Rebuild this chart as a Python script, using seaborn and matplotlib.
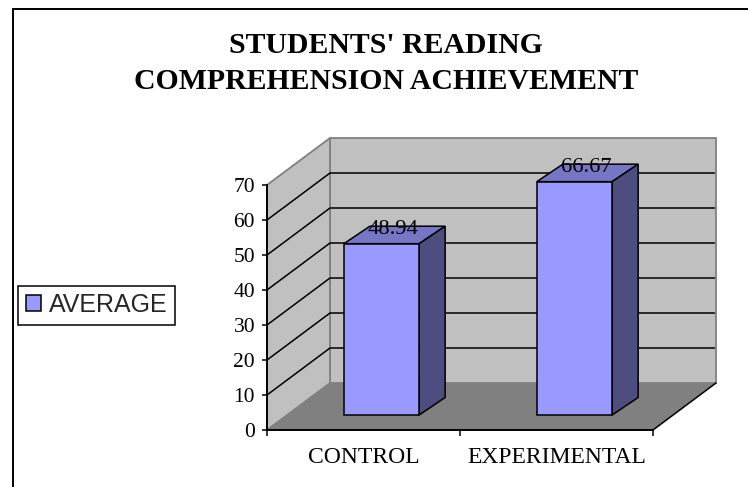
import matplotlib
matplotlib.use('Agg')
import matplotlib.pyplot as plt
import pandas as pd
import seaborn as sns
from matplotlib.patches import Polygon, Rectangle
from matplotlib.transforms import Affine2D

groups = ['CONTROL', 'EXPERIMENTAL']
average = [48.94, 66.67]
y_ticks = [0, 10, 20, 30, 40, 50, 60, 70]
legend_label = 'AVERAGE'
title = "STUDENTS' READING\nCOMPREHENSION ACHIEVEMENT"

W, H = 748, 487
DEPTH = (63, 47)      # axis box depth, pixels
BAR_SHIFT = (18, 15)  # bars stand partway into the floor
BAR_DEPTH = (26, 17.5)

sns.set_theme(style='white')
plt.rcParams['font.family'] = ['Liberation Serif', 'DejaVu Serif']

fig = plt.figure(figsize=(W / 100, H / 100), dpi=100, facecolor='white')
ax = fig.add_axes([267 / W, 1 - 430 / H, 386 / W, 245 / H])
ax.patch.set_visible(False)

df = pd.DataFrame({'group': groups, 'average': average})
sns.barplot(data=df, x='group', y='average', width=0.39, color='#9999FF', saturation=1,
            edgecolor='black', linewidth=1.1, label=legend_label, ax=ax, zorder=5)
bars = list(ax.containers[0])
ax.set_xlim(-0.5, 1.5)
ax.set_ylim(0, 70)
ax.set_xlabel('')
ax.set_ylabel('')

inv = ax.transData.inverted()
depth = ax.transData + Affine2D().translate(*DEPTH)
shift = ax.transData + Affine2D().translate(*BAR_SHIFT)
bar_depth = Affine2D().translate(*BAR_DEPTH)

# walls and floor
x0, x1 = ax.get_xlim()
top = y_ticks[-1]
ax.add_patch(Polygon([(x0, 0), (x0, top), (x1, top), (x1, 0)], transform=depth, clip_on=False,
                     facecolor='#C0C0C0', edgecolor='#808080', linewidth=1.3, zorder=1))
wall = inv.transform(depth.transform([(x0, 0), (x0, top)]))
ax.add_patch(Polygon([(x0, 0), (x0, top), wall[1], wall[0]], clip_on=False,
                     facecolor='#C0C0C0', edgecolor='#808080', linewidth=1.3, zorder=1))
back = inv.transform(depth.transform([(x0, 0), (x1, 0)]))
ax.add_patch(Polygon([(x0, 0), (x1, 0), back[1], back[0]], clip_on=False,
                     facecolor='#808080', edgecolor='none', zorder=2))
ax.plot([x1, back[1][0]], [0, back[1][1]], color='black', lw=1.1, clip_on=False, zorder=3)

# gridlines, round the side wall then along the back
for v in y_ticks[1:-1]:
    w = inv.transform(depth.transform([(x0, v), (x1, v)]))
    ax.plot([x0, w[0][0], w[1][0] - 0.008], [v, w[0][1], w[1][1]], color='black', lw=1.1,
            clip_on=False, zorder=3)

# faces of the bars
for bar, val in zip(bars, average):
    bar.set_transform(shift)
    bar.set_clip_on(False)
    l, r = bar.get_x(), bar.get_x() + bar.get_width()
    front = shift.transform([(l, val), (r, val), (r, 0)])
    bk = inv.transform(bar_depth.transform(front))
    f = inv.transform(front)
    ax.add_patch(Polygon([f[0], f[1], bk[1], bk[0]], clip_on=False,
                         facecolor='#7676C4', edgecolor='black', linewidth=1.1, zorder=4))
    ax.add_patch(Polygon([f[1], f[2], bk[2], bk[1]], clip_on=False,
                         facecolor='#4D4D80', edgecolor='black', linewidth=1.1, zorder=4))
    ax.annotate(f'{val:.2f}', xy=((l + r) / 2, val), xycoords='data',
                xytext=(BAR_SHIFT[0] + 11.5, 29.5), textcoords='offset pixels',
                ha='center', va='center', fontsize=16.2, color='black', zorder=6,
                annotation_clip=False)

# axes
for side in ['top', 'right']:
    ax.spines[side].set_visible(False)
for side in ['left', 'bottom']:
    ax.spines[side].set_color('black')
    ax.spines[side].set_linewidth(1.4)
    ax.spines[side].set_zorder(7)
ax.set_yticks(y_ticks)
ax.set_xticks([0, 1])
ax.set_xticklabels(groups)
ax.set_xticks([-0.5, 0.5, 1.5], minor=True)
ax.tick_params(axis='x', which='major', length=0, pad=12, labelsize=17, colors='black')
ax.tick_params(axis='x', which='minor', bottom=True, length=4, width=1.1, color='black')
ax.tick_params(axis='y', left=True, length=3.6, width=1.1, pad=5, labelsize=15.5, colors='black')

handles, labels = ax.get_legend_handles_labels()
if ax.get_legend() is not None:
    ax.get_legend().remove()
leg = fig.legend(handles, labels, loc='center left', bbox_to_anchor=(18 / W, 1 - 305 / H),
                 frameon=True, fancybox=False, framealpha=1, edgecolor='black',
                 handlelength=0.6, handleheight=0.6, handletextpad=0.32, borderpad=0.3, borderaxespad=0,
                 prop={'family': 'Liberation Sans', 'size': 18})
leg.get_frame().set_linewidth(1.1)

fig.text(386 / W, 1 - 63.5 / H, title, ha='center', va='center', fontsize=21.4, fontweight='bold',
         linespacing=1.43, color='black')

# chart frame, runs off the right and bottom of the picture
fig.add_artist(Rectangle((12.8 / W, -0.1), 1.1, 1.1 - 8.5 / H, transform=fig.transFigure,
                         facecolor='none', edgecolor='black', linewidth=1.4))

fig.savefig('out.png', dpi=100)
